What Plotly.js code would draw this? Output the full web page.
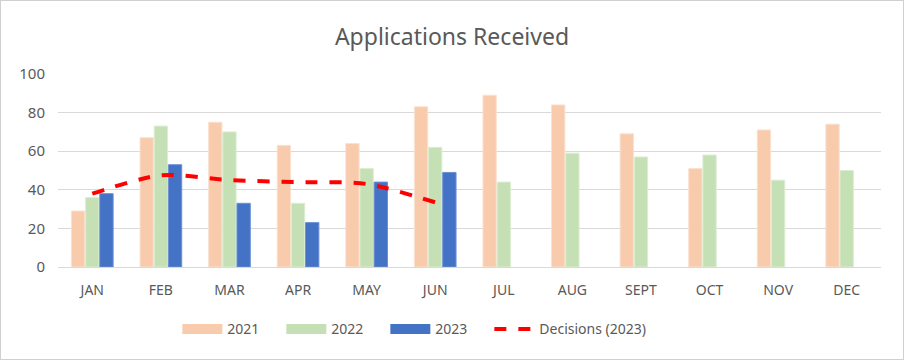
<!DOCTYPE html>
<html><head><meta charset="utf-8">
<script src="https://cdn.plot.ly/plotly-3.0.1.min.js"></script>
<style>html,body{margin:0;padding:0;background:#fff}#wrap{width:904px;height:360px;box-sizing:border-box;border:1px solid #d0d0d0}#chart{width:902px;height:358px}</style>
</head><body><div id="wrap"><div id="chart"></div></div>
<script>
const months = ["JAN","FEB","MAR","APR","MAY","JUN","JUL","AUG","SEPT","OCT","NOV","DEC"];
const apps2021 = [29,67,75,63,64,83,89,84,69,51,71,74];
const apps2022 = [36,73,70,33,51,62,44,59,57,58,45,50];
const apps2023 = [38,53,33,23,44,49];
const decisions2023 = [38,47.5,45,44,43,33.5];
const yTicks = [0,20,40,60,80,100];
const seriesNames = ["2021","2022","2023"];
const seriesColors = ["#F8CBAD","#C5E0B4","#4472C4"];
const seriesEdges = ["#fbe0cf","#dcedd2","#6a8fd3"];
const seriesData = [apps2021, apps2022, apps2023];

const font = {family:"Noto Sans, Open Sans, sans-serif", color:"#595959", size:14};
const traces = [];
seriesData.forEach((vals, i) => {
  traces.push({type:"bar", name:seriesNames[i], legendgroup:seriesNames[i], showlegend:false,
    x:months.slice(0, vals.length), y:vals,
    marker:{color:seriesColors[i], line:{color:seriesEdges[i], width:1}}});
});
// legend swatches (wide rectangles like the original legend)
seriesData.forEach((vals, i) => {
  traces.push({type:"scatter", mode:"lines", name:seriesNames[i], legendgroup:seriesNames[i],
    x:[null], y:[null], line:{color:seriesColors[i], width:10}, hoverinfo:"skip", legendwidth:49});
});
traces.push({type:"scatter", mode:"lines", name:"Decisions (2023)", x:months.slice(0,decisions2023.length), y:decisions2023,
   line:{color:"#FF0000", width:4, dash:"dash", shape:"spline", smoothing:0.8}, legendwidth:140});

const layout = {
  width:902, height:358,
  margin:{l:57, r:22, t:73, b:92},
  paper_bgcolor:"#fff", plot_bgcolor:"#fff",
  font:font,
  title:{text:"Applications Received", font:{family:"Noto Sans, sans-serif", size:23, color:"#595959"}, x:0.5, xanchor:"center", y:0.9, yanchor:"middle"},
  barmode:"group", bargap:0.38, bargroupgap:0.06,
  xaxis:{type:"category", categoryorder:"array", categoryarray:months, showline:true, linecolor:"#d9d9d9", linewidth:1, ticks:"", ticklabelstandoff:10, tickfont:{size:14, color:"#595959"}, fixedrange:true},
  yaxis:{range:[0,100], tickvals:yTicks, showgrid:true, gridcolor:"#d9d9d9", gridwidth:1, zeroline:false, ticks:"", ticklabelstandoff:12, tickfont:{size:15, color:"#595959"}, showline:false},
  legend:{orientation:"h", x:0.145, xanchor:"left", y:-0.24, yanchor:"top", font:{size:14, color:"#595959"}, itemwidth:40, traceorder:"normal"},
  showlegend:true
};
Plotly.newPlot("chart", traces, layout, {displayModeBar:false, staticPlot:true});
</script></body></html>
